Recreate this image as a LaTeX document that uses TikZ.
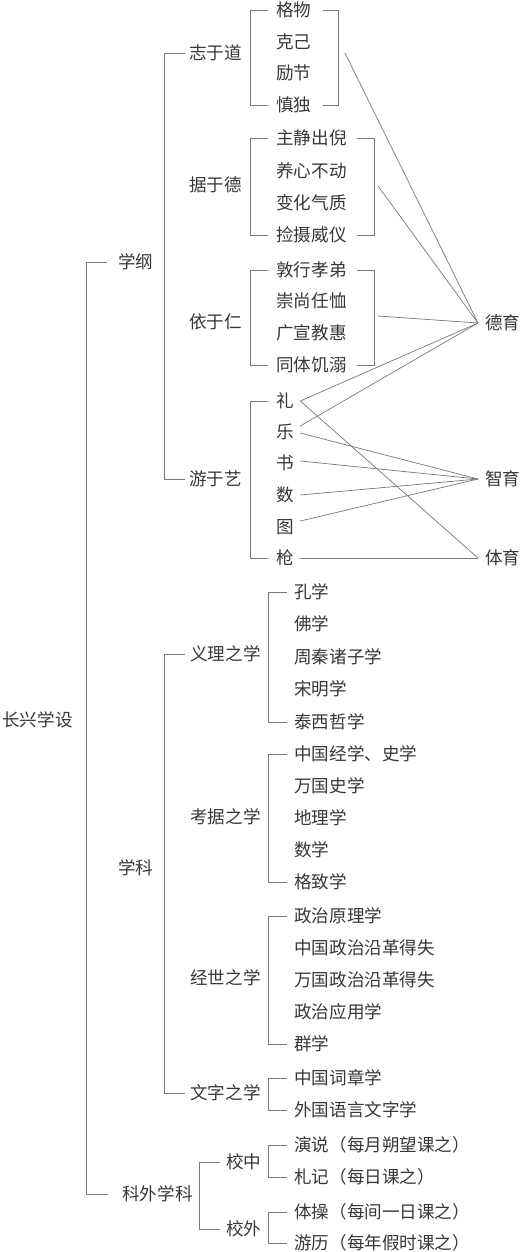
\documentclass[tikz,border=0pt]{standalone}
\usepackage{fontspec}
\setmainfont{Noto Sans CJK SC}
\usetikzlibrary{calc}
\definecolor{InkGray}{RGB}{55,55,55}
\definecolor{RuleGray}{RGB}{120,120,120}

\begin{document}
\begin{tikzpicture}[x=0.02cm, y=-0.02cm]
      \tikzstyle{item}=[anchor=west, inner sep=0, text=InkGray];
      \tikzstyle{brace}=[RuleGray, line width=.5pt];
      \tikzstyle{link}=[RuleGray, line width=.4pt];

      \useasboundingbox (0,0) rectangle (520,1252);

      % root and first level
      \node[item] (root) at (2,720) {长兴学设};
      \node[item] (xuegang) at (118,262) {学纲};
      \node[item] (xueke) at (118,868) {学科};
      \node[item] (kewai) at (122,1194) {科外学科};

      % xuegang
      \node[item] (zhi) at (189,53) {志于道};
      \node[item] (ju) at (189,185) {据于德};
      \node[item] (yi) at (189,322) {依于仁};
      \node[item] (you) at (189,479) {游于艺};

      \node[item] (gewu) at (276,10) {格物};
      \node[item] (keji) at (276,42) {克己};
      \node[item] (lijie) at (276,73) {励节};
      \node[item] (shendu) at (276,105) {慎独};

      \node[item] (zhujing) at (276,138) {主静出倪};
      \node[item] (yangxin) at (276,171) {养心不动};
      \node[item] (bianhua) at (276,203) {变化气质};
      \node[item] (jianshe) at (276,235) {捡摄威仪};

      \node[item] (dunxing) at (276,270) {敦行孝弟};
      \node[item] (chong) at (276,301) {崇尚任恤};
      \node[item] (guang) at (276,333) {广宣教惠};
      \node[item] (tongti) at (276,365) {同体饥溺};

      \node[item] (li) at (276,401) {礼};
      \node[item] (yue) at (276,432) {乐};
      \node[item] (shu) at (276,463) {书};
      \node[item] (shuxue) at (276,495) {数};
      \node[item] (tu) at (276,527) {图};
      \node[item] (qiang) at (276,558) {枪};

      \node[item] (deyu) at (485,323) {德育};
      \node[item] (zhiyu) at (485,479) {智育};
      \node[item] (tiyu) at (485,558) {体育};

      % xueke
      \node[item] (yili) at (190,654) {义理之学};
      \node[item] (kaoju) at (190,817) {考据之学};
      \node[item] (jingshi) at (190,978) {经世之学};
      \node[item] (wenzi) at (190,1093) {文字之学};

      \node[item] (kong) at (294,592) {孔学};
      \node[item] (fo) at (294,624) {佛学};
      \node[item] (zhouqin) at (294,657) {周秦诸子学};
      \node[item] (songming) at (294,689) {宋明学};
      \node[item] (taixi) at (294,722) {泰西哲学};

      \node[item] (jingshixue) at (294,754) {中国经学、史学};
      \node[item] (wanguo) at (294,786) {万国史学};
      \node[item] (dili) at (294,818) {地理学};
      \node[item] (math) at (294,850) {数学};
      \node[item] (gezhi) at (294,882) {格致学};

      \node[item] (yuanli) at (294,916) {政治原理学};
      \node[item] (zgzz) at (294,948) {中国政治沿革得失};
      \node[item] (wgzz) at (294,980) {万国政治沿革得失};
      \node[item] (yingyong) at (294,1012) {政治应用学};
      \node[item] (qun) at (294,1044) {群学};

      \node[item] (cizhang) at (294,1078) {中国词章学};
      \node[item] (waiguo) at (294,1110) {外国语言文字学};

      % kewai
      \node[item] (xiaozhong) at (226,1162) {校中};
      \node[item] (xiaowai) at (226,1229) {校外};

      \node[item] (yanshuo) at (294,1145) {演说（每月朔望课之）};
      \node[item] (zhaji) at (294,1177) {札记（每日课之）};
      \node[item] (ticao) at (294,1212) {体操（每间一日课之）};
      \node[item] (youli) at (294,1243) {游历（每年假时课之）};

      % brackets
      \draw[brace] ($(xuegang.west)+(-11,0)$) -- ++(-21,0) |- ($(kewai.west)+(-14,0)$);
      \draw[brace] ($(zhi.west)+(-4,0)$) -- ++(-21,0) |- ($(you.west)+(-4,0)$);
      \draw[brace] ($(yili.west)+(-5,0)$) -- ++(-21,0) |- ($(wenzi.west)+(-5,0)$);
      \draw[brace] ($(xiaozhong.west)+(-6,0)$) -- ++(-21,0) |- ($(xiaowai.west)+(-6,0)$);

      \draw[brace] ($(gewu.west)+(-8,0)$) -- ++(-18,0) |- ($(shendu.west)+(-8,0)$);
      \draw[brace] ($(gewu.east)+(11,0)$) -- ++(16,0) |- ($(shendu.east)+(11,0)$);
      \draw[brace] ($(zhujing.west)+(-8,0)$) -- ++(-18,0) |- ($(jianshe.west)+(-8,0)$);
      \draw[brace] ($(zhujing.east)+(10,0)$) -- ++(17,0) |- ($(jianshe.east)+(10,0)$);
      \draw[brace] ($(dunxing.west)+(-8,0)$) -- ++(-18,0) |- ($(tongti.west)+(-8,0)$);
      \draw[brace] ($(dunxing.east)+(10,0)$) -- ++(17,0) |- ($(tongti.east)+(10,0)$);
      \draw[brace] ($(li.west)+(-8,0)$) -- ++(-18,0) |- ($(qiang.west)+(-8,0)$);

      \draw[brace] ($(kong.west)+(-7,0)$) -- ++(-19,0) |- ($(taixi.west)+(-7,0)$);
      \draw[brace] ($(jingshixue.west)+(-7,0)$) -- ++(-19,0) |- ($(gezhi.west)+(-7,0)$);
      \draw[brace] ($(yuanli.west)+(-7,0)$) -- ++(-19,0) |- ($(qun.west)+(-7,0)$);
      \draw[brace] ($(cizhang.west)+(-7,0)$) -- ++(-19,0) |- ($(waiguo.west)+(-7,0)$);
      \draw[brace] ($(yanshuo.west)+(-7,0)$) -- ++(-19,0) |- ($(zhaji.west)+(-7,0)$);
      \draw[brace] ($(ticao.west)+(-7,0)$) -- ++(-19,0) |- ($(youli.west)+(-7,0)$);

      % links to the three aims
      \coordinate (de) at ($(deyu.west)+(-7,0)$);
      \coordinate (zh) at ($(zhiyu.west)+(-7,0)$);
      \coordinate (ti) at ($(tiyu.west)+(-7,0)$);
      \coordinate (zhiR) at (345,53);
      \coordinate (juR) at (378,186);
      \coordinate (yiR) at (378,316);

      \draw[link] (zhiR) -- (de);
      \draw[link] (juR) -- (de);
      \draw[link] (yiR) -- (de);
      \draw[link] ($(li.east)+(6,0)$) -- (de);
      \draw[link] ($(li.east)+(6,0)$) -- (ti);
      \draw[link] ($(yue.east)+(6,-6)$) -- (de);
      \draw[link] ($(yue.east)+(6,1)$) -- (zh);
      \draw[link] ($(shu.east)+(6,-2)$) -- (zh);
      \draw[link] ($(shuxue.east)+(6,0)$) -- (zh);
      \draw[link] ($(tu.east)+(6,-6)$) -- (zh);
      \draw[link] ($(qiang.east)+(6,0)$) -- (ti);
\end{tikzpicture}
\end{document}
